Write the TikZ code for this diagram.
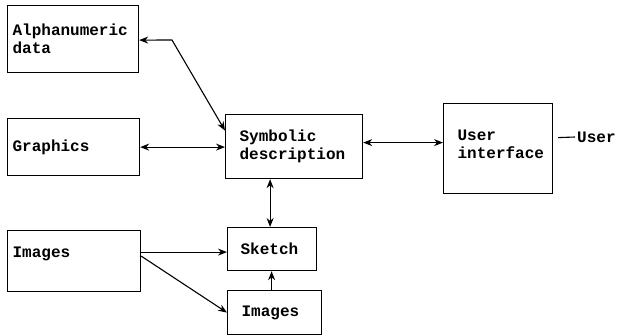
\documentclass[tikz,border=0pt]{standalone}
\usepackage{fontspec}
\setmonofont{Liberation Mono}
\usetikzlibrary{arrows.meta}
\tikzset{
  box/.style={draw, line width=1.2pt, anchor=north west, align=left, font=\ttfamily\bfseries\fontsize{16}{18}\selectfont, inner ysep=0pt},
  link/.style={line width=1.1pt, {Stealth[length=9pt,width=7pt]}-{Stealth[length=9pt,width=7pt]}},
  onelink/.style={line width=1.1pt, -{Stealth[length=9pt,width=7pt]}},
}
\begin{document}
\begin{tikzpicture}[x=1pt,y=-1pt]
\useasboundingbox (0,0) rectangle (621,335);
\node[box, inner xsep=5pt, text width=121pt, minimum height=67pt] (alpha) at (7,5) {Alphanumeric\\data};
\node[box, inner xsep=5pt, text width=122pt, minimum height=57pt] (gra) at (7,118) {Graphics};
\node[box, inner xsep=14pt, text width=109pt, minimum height=64pt] (sym) at (225,114) {Symbolic\\description};
\node[box, inner xsep=14pt, text width=81pt, minimum height=90pt] (ui) at (443,103) {User\\interface\\[-10pt]\mbox{}};
\node[box, inner xsep=5pt, text width=123pt, minimum height=61pt] (img) at (7,230) {Images\\\mbox{}};
\node[box, inner xsep=13pt, text width=63pt, minimum height=43pt] (sk) at (227,227) {Sketch};
\node[box, inner xsep=14pt, text width=66pt, minimum height=44pt] (img2) at (227,290) {Images};
\node[font=\ttfamily\bfseries\fontsize{16}{18}\selectfont, anchor=west, inner sep=2pt] (user) at (575,137) {User};
\coordinate (bend) at (172,40);
\draw[link] ([yshift=-1pt]alpha.east) -- (bend) -- ([yshift=16pt]sym.west);
\draw[link] (gra.east) -- (gra.east -| sym.west);
\draw[link] ([yshift=4pt]sym.east) -- ([yshift=4pt]sym.east -| ui.west);
\draw[line width=1.1pt] ([xshift=5pt,yshift=11pt]ui.east) -- (user.west);
\draw[link] ([xshift=-2pt]sk.north) -- ([xshift=-2pt]sk.north |- sym.south);
\draw[onelink] ([xshift=-3pt]img2.north) -- ([xshift=-3pt]img2.north |- sk.south);
\draw[onelink] ([yshift=9pt]img.east) -- ([yshift=9pt]img.east -| sk.west);
\draw[onelink] ([yshift=5pt]img.east) -- (img2.west);
\end{tikzpicture}
\end{document}
